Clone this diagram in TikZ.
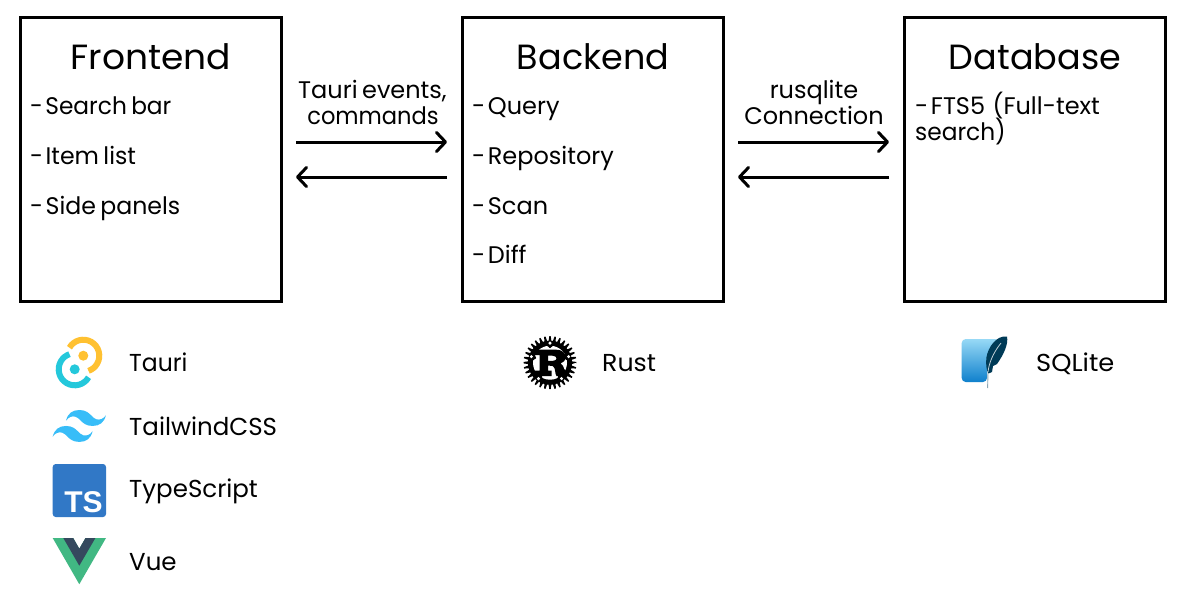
\documentclass[tikz,border=0pt]{standalone}
\usepackage{fontspec}
\setmainfont[WordSpace=0.7]{Poppins}
\newfontfamily\tsfont{Liberation Sans}
\usetikzlibrary{arrows.meta,svg.path,calc}
\definecolor{tsblue}{HTML}{3178C6}
\definecolor{vuegreen}{HTML}{41B883}
\definecolor{vuedark}{HTML}{35495E}
\definecolor{tauyel}{HTML}{FFC131}
\definecolor{taucy}{HTML}{24C8DB}
\definecolor{twblue}{HTML}{38BDF8}
\definecolor{sqdark}{HTML}{003B57}
\definecolor{sqtop}{HTML}{97D9F6}
\definecolor{sqbot}{HTML}{0F80CC}
\newcommand{\dashgap}{-\kern-2pt\ }
\tikzset{
 box/.style={draw=black,line width=3pt,minimum width=261pt,minimum height=284pt,inner sep=0pt,outer sep=0pt},
 title/.style={font=\fontsize{35}{35}\selectfont,anchor=base,inner sep=0pt},
 item/.style={font=\fontsize{24}{26}\selectfont,anchor=base west,inner sep=0pt},
 lbl/.style={font=\fontsize{24}{26}\selectfont,anchor=base,inner sep=0pt},
 tech/.style={font=\fontsize{24.5}{26}\selectfont,anchor=base west,inner sep=0pt},
 arr/.style={line width=3pt,-{Straight Barb[length=9pt,width=19pt,line width=3pt,round]},shorten >=15pt,shorten <=15pt},
}
\begin{document}
\begin{tikzpicture}[x=1pt,y=-1pt]
\useasboundingbox (0,0) rectangle (1186,606);
\fill[white] (0,0) rectangle (1186,606);
\node[box] (front) at (150.5,159) {};
\node[box] (back) at (592.5,159) {};
\node[box] (db) at (1034.5,159) {};
\node[title] (t1) at (151,69) {\addfontfeature{FakeStretch=1.03}Frontend};
\node[title] (t2) at (593,69) {Backend};
\node[title] (t3) at (1035,69) {Database};
\node[item] (f1) at (30,114) {\addfontfeature{FakeStretch=0.97}\dashgap Search bar};
\node[item] (f2) at (30,164) {\addfontfeature{FakeStretch=0.985}\dashgap Item list};
\node[item] (f3) at (30,214) {\addfontfeature{FakeStretch=0.985}\dashgap Side panels};
\node[item] (b1) at (472,114) {\dashgap Query};
\node[item] (b2) at (472,164) {\dashgap Repository};
\node[item] (b3) at (472,214) {\dashgap Scan};
\node[item] (b4) at (472,263) {\dashgap Diff};
\node[item] (d1) at (915,114) {\dashgap FTS5 \kern3pt(Full-text};
\node[item] (d2) at (915,140) {\addfontfeature{FakeStretch=0.97}search)};
\node[lbl] (l1) at (372.5,98) {Tauri events,};
\node[lbl] (l2) at (373,124) {\addfontfeature{FakeStretch=0.94}commands};
\node[lbl] (l3) at (814,98) {rusqlite};
\node[lbl] (l4) at (814,124) {Connection};
\draw[arr] ([yshift=17pt]front.east) -- ([yshift=17pt]back.west);
\draw[arr] ([yshift=-18pt]back.west) -- ([yshift=-18pt]front.east);
\draw[arr] ([yshift=17pt]back.east) -- ([yshift=17pt]db.west);
\draw[arr] ([yshift=-18pt]db.west) -- ([yshift=-18pt]back.east);
\node[tech] (n1) at (129,371) {\addfontfeature{FakeStretch=0.96}Tauri};
\node[tech] (n2) at (129,435) {TailwindCSS};
\node[tech] (n3) at (129,497) {TypeScript};
\node[tech] (n4) at (129,570) {Vue};
\node[tech] (n5) at (602,371) {\addfontfeature{FakeStretch=1.03}Rust};
\node[tech] (n6) at (1036,371) {\addfontfeature{FakeStretch=1.05}SQLite};
% Tauri logo
\draw[tauyel,line width=6pt] (83.3,355.7) ++(-150:16) arc[start angle=-150,end angle=71,radius=16];
\draw[taucy,line width=6pt] (74.7,369.3) ++(30:16) arc[start angle=30,end angle=251,radius=16];
\fill[tauyel] (83.3,355.7) circle[radius=5];
\fill[taucy] (74.7,369.3) circle[radius=5];
% Tailwind logo
\begin{scope}[shift={(52.7,410)},xscale=0.985,yscale=-0.985]
\fill[twblue] svg {M27 0c-7.2 0-11.7 3.6-13.5 10.8 2.7-3.6 5.85-4.95 9.45-4.05 2.054.513 3.522 2.004 5.147 3.653C30.744 13.09 33.808 16.2 40.5 16.2c7.2 0 11.7-3.6 13.5-10.8-2.7 3.6-5.85 4.95-9.45 4.05-2.054-.513-3.522-2.004-5.147-3.653C36.756 3.11 33.692 0 27 0zM13.5 16.2C6.3 16.2 1.8 19.8 0 27c2.7-3.6 5.85-4.95 9.45-4.05 2.054.514 3.522 2.004 5.147 3.653C17.244 29.29 20.308 32.4 27 32.4c7.2 0 11.7-3.6 13.5-10.8-2.7 3.6-5.85 4.95-9.45 4.05-2.054-.513-3.522-2.004-5.147-3.653C23.256 19.31 20.192 16.2 13.5 16.2z};
\end{scope}
% TypeScript logo
\fill[tsblue,rounded corners=3pt] (52.7,464) rectangle (106,517);
\node[font=\tsfont\bfseries\fontsize{30}{30}\selectfont,text=white,anchor=base,inner sep=0pt] (ts) at (83.5,512) {TS};
% Vue logo
\fill[vuegreen] (52.7,538) -- (73.2,538) -- (79.3,548.7) -- (85.5,538) -- (106,538) -- (79.3,584.2) -- cycle;
\fill[vuedark] (63.3,538) -- (73.2,538) -- (79.3,548.7) -- (85.5,538) -- (95.4,538) -- (79.3,565.7) -- cycle;
% Rust logo
\begin{scope}[shift={(550,362.7)}]
\fill[black] (0:26)
 \foreach \i in {1,...,32}{ -- ({\i*11.25-5.625-2}:22) -- ({\i*11.25-5.625+2}:22) -- ({\i*11.25-1.5}:26.5) -- ({\i*11.25+1.5}:26.5)} -- cycle;
\fill[white] (0,0) circle[radius=17];
\foreach \a in {-90,-18,54,126,198} \fill[black] (\a-12:18) -- (\a+12:18) -- (\a:14.5) -- cycle;
\foreach \a in {-90,-18,54,126,198} \fill[white] (\a:19.6) circle[radius=1.7];
\fill[black,even odd rule] (-15,-13) -- (6,-13) .. controls (13,-13) and (15.5,-9) .. (15.5,-5.5) .. controls (15.5,-2) and (13,0) .. (10.5,0.8) .. controls (13,2) and (13.5,4) .. (14,6) .. controls (14.5,8) and (16,8.5) .. (18,8) -- (18,13.5) -- (6.5,13.5) .. controls (4.5,10) and (6,6) .. (3,3.5) .. controls (2,3) and (1,3) .. (-2,3) -- (-2,8) -- (1.5,8) -- (1.5,13.5) -- (-15,13.5) -- (-15,8) -- (-10.5,8) -- (-10.5,-7.5) -- (-15,-7.5) -- cycle
 (-2,-7) -- (2.5,-7) .. controls (5.5,-7) and (6.5,-5.5) .. (6.5,-4.2) .. controls (6.5,-3) and (5.5,-1.8) .. (2.5,-1.8) -- (-2,-1.8) -- cycle;
\end{scope}
% SQLite logo
\shade[top color=sqtop,bottom color=sqbot,rounded corners=4pt] (961.7,339) -- (999,339) -- (990,352) -- (987,364) -- (987,382) -- (961.7,382) -- cycle;
\draw[sqdark!45!white,line width=0.9pt] (987.6,388) -- (988,372);
\fill[sqdark] (1007,336.5) .. controls (1008.5,344) and (1004,354) .. (997,364) -- (993,366) -- (992,372) -- (988.5,373.5) .. controls (986.5,371) and (985.5,364) .. (986.5,357) .. controls (988,348) and (996,335) .. (1007,336.5) -- cycle;
\draw[white!75!sqdark,line width=0.8pt] (988,372) .. controls (989,363) and (993,353) .. (1001,343);
\end{tikzpicture}
\end{document}
